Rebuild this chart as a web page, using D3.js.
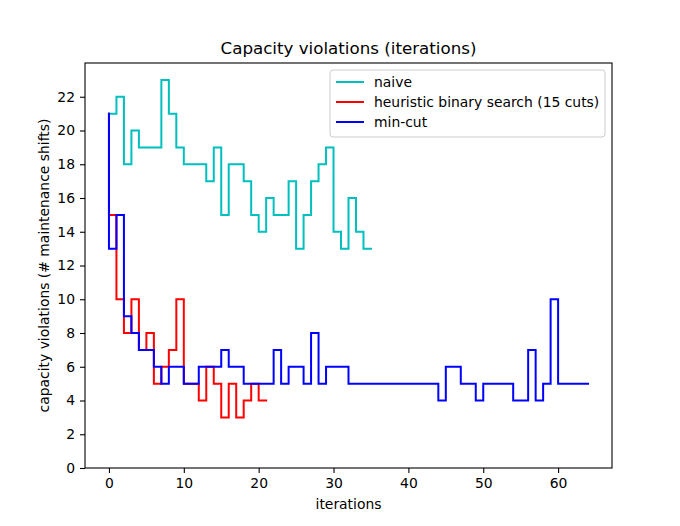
<!DOCTYPE html>
<html>
<head>
<meta charset="utf-8">
<script src="https://cdn.jsdelivr.net/npm/d3@7"></script>
<style>
  body { margin: 0; background: #fff; }
  text { font-family: "DejaVu Sans", sans-serif; fill: #000; }
</style>
</head>
<body>
<div id="chart"></div>
<script>
// capacity violations per iteration (step "pre": value i covers (i-1, i])
const naive = [21, 21, 22, 18, 20, 19, 19, 19, 23, 21, 19, 18, 18, 18, 17, 19, 15, 18, 18, 17,
    15, 14, 16, 15, 15, 17, 13, 15, 17, 18, 19, 14, 13, 16, 14, 13];
const heuristic = [21, 15, 10, 8, 10, 7, 8, 5, 6, 7, 10, 5, 5, 4, 6, 5, 3, 5, 3, 4, 5, 4];
const minCut = [21, 13, 15, 9, 8, 7, 7, 6, 5, 6, 6, 5, 5, 6, 6, 6, 7, 6, 6, 5,
    5, 5, 5, 7, 5, 6, 6, 5, 8, 5, 6, 6, 6, 5, 5, 5, 5, 5, 5, 5,
    5, 5, 5, 5, 5, 4, 6, 6, 5, 5, 4, 5, 5, 5, 5, 4, 4, 7, 4, 5,
    10, 5, 5, 5, 5];

const seriesNames = ["naive", "heuristic binary search (15 cuts)", "min-cut"];
const seriesColors = ["#00bfbf", "#ff0000", "#0000ff"];
const xTicks = [0, 10, 20, 30, 40, 50, 60];
const yTicks = [0, 2, 4, 6, 8, 10, 12, 14, 16, 18, 20, 22];

const width = 680, height = 526;
const margin = { top: 63, right: 68, bottom: 58, left: 85 };
const plotW = width - margin.left - margin.right;
const plotH = height - margin.top - margin.bottom;

const svg = d3.select("#chart").append("svg")
    .attr("width", width)
    .attr("height", height);

const g = svg.append("g").attr("transform", `translate(${margin.left},${margin.top})`);

const x = d3.scaleLinear().domain([-3.2, 67.2]).range([0, plotW]);
const y = d3.scaleLinear().domain([0, 24]).range([plotH, 0]);

const line = d3.line()
    .x((d, i) => x(i))
    .y(d => y(d))
    .curve(d3.curveStepBefore);

[naive, heuristic, minCut].forEach((s, k) => {
    g.append("path")
        .datum(s)
        .attr("d", line)
        .attr("fill", "none")
        .attr("stroke", seriesColors[k])
        .attr("stroke-width", 2)
        .attr("stroke-linejoin", "miter")
        .attr("stroke-linecap", "square");
});

// axes
const xAxis = g.append("g")
    .attr("transform", `translate(0,${plotH})`)
    .call(d3.axisBottom(x).tickValues(xTicks).tickSize(5).tickPadding(5));
const yAxis = g.append("g")
    .call(d3.axisLeft(y).tickValues(yTicks).tickSize(5).tickPadding(5));

[xAxis, yAxis].forEach(a => {
    a.select(".domain").remove();
    a.selectAll("text").style("font-family", "DejaVu Sans").style("font-size", "13.9px");
    a.selectAll("line").attr("stroke", "#000").attr("stroke-width", 1.1);
});

g.append("rect")
    .attr("width", plotW)
    .attr("height", plotH)
    .attr("fill", "none")
    .attr("stroke", "#000")
    .attr("stroke-width", 1.1);

// labels
svg.append("text")
    .attr("x", margin.left + plotW / 2)
    .attr("y", margin.top - 9)
    .attr("text-anchor", "middle")
    .style("font-size", "16.7px")
    .text("Capacity violations (iterations)");

svg.append("text")
    .attr("x", margin.left + plotW / 2)
    .attr("y", height - 17)
    .attr("text-anchor", "middle")
    .style("font-size", "13.9px")
    .text("iterations");

svg.append("text")
    .attr("transform", `translate(49,${margin.top + plotH / 2}) rotate(-90)`)
    .attr("text-anchor", "middle")
    .style("font-size", "13.9px")
    .text("capacity violations (# maintenance shifts)");

// legend
const legend = g.append("g").attr("transform", `translate(${plotW - 282},7)`);
legend.append("rect")
    .attr("width", 275)
    .attr("height", 67)
    .attr("rx", 3)
    .attr("fill", "#fff")
    .attr("fill-opacity", 0.8)
    .attr("stroke", "#cccccc")
    .attr("stroke-width", 1);

seriesNames.forEach((name, i) => {
    const row = legend.append("g").attr("transform", `translate(0,${12 + i * 20})`);
    row.append("line")
        .attr("x1", 6).attr("x2", 34)
        .attr("y1", 0).attr("y2", 0)
        .attr("stroke", seriesColors[i])
        .attr("stroke-width", 2);
    row.append("text")
        .attr("x", 44)
        .attr("y", 5)
        .style("font-size", "13.9px")
        .text(name);
});
</script>
</body>
</html>
